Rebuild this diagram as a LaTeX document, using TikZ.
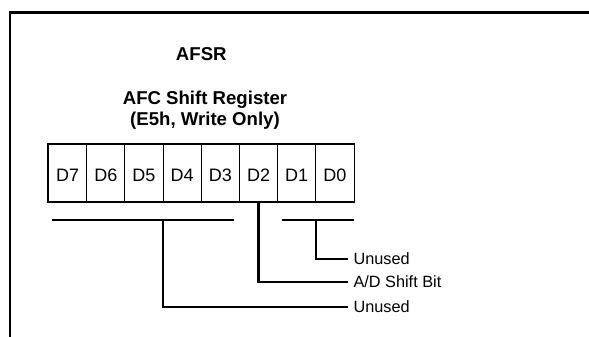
\documentclass[tikz,border=0pt]{standalone}
\usepackage{fontspec}
\setmainfont{Liberation Sans}
\usetikzlibrary{positioning}
\tikzset{
  cell/.style={draw,line width=0.9pt,minimum width=38.19pt,minimum height=57.7pt,
    inner sep=0pt,text height=17pt,text depth=0pt,font=\fontsize{18}{18}\selectfont},
  title/.style={anchor=base,inner sep=0pt,font=\fontsize{18.6}{21}\selectfont\bfseries},
  lbl/.style={anchor=west,inner sep=0pt,text height=11.7pt,text depth=0pt,
    font=\fontsize{16.3}{16}\selectfont},
  wire/.style={line width=2.2pt}
}
\begin{document}
\begin{tikzpicture}[x=1pt,y=-1pt]
  \useasboundingbox (0,0) rectangle (589,337);
  % frame
  \draw[line width=2.3pt] (10,337) -- (10,12.5) -- (589,12.5);
  % titles
  \node[title] (afsr) at (201.3,61) {AFSR};
  \node[title] (afc) at (205,104) {AFC Shift Register};
  \node[title] (mode) at (205,125) {(E5h, Write Only)};
  % register cells
  \foreach \i [count=\k from 0] in {7,...,0}
    \node[cell] (d\i) at (67.6+38.19*\k,173) {D\i};
  \draw[line width=1.5pt] (d7.north west) rectangle (d0.south east);
  \draw[line width=2.2pt] (d7.south west) -- (d0.south east);
  % bit groups
  \coordinate (hi) at (52.3,220.3);
  \coordinate (hiend) at (234.3,220.3);
  \coordinate (lo) at (282.3,220.3);
  \draw[wire] (hi) -- (hiend);
  \draw[wire] (lo) -- (d0.south east |- lo);
  % labels
  \node[lbl] (unusedlo) at (353.3,259) {Unused};
  \node[lbl] (shiftbit) at (353.3,281.7) {A/D Shift Bit};
  \node[lbl] (unusedhi) at (353.3,306.7) {Unused};
  \draw[wire] (d1.south east |- lo) |- ([xshift=-5pt]unusedlo.west);
  \draw[wire] (d2.south) |- ([xshift=-5pt]shiftbit.west);
  \draw[wire] (d4.south west |- hi) |- ([xshift=-5pt]unusedhi.west);
\end{tikzpicture}
\end{document}
